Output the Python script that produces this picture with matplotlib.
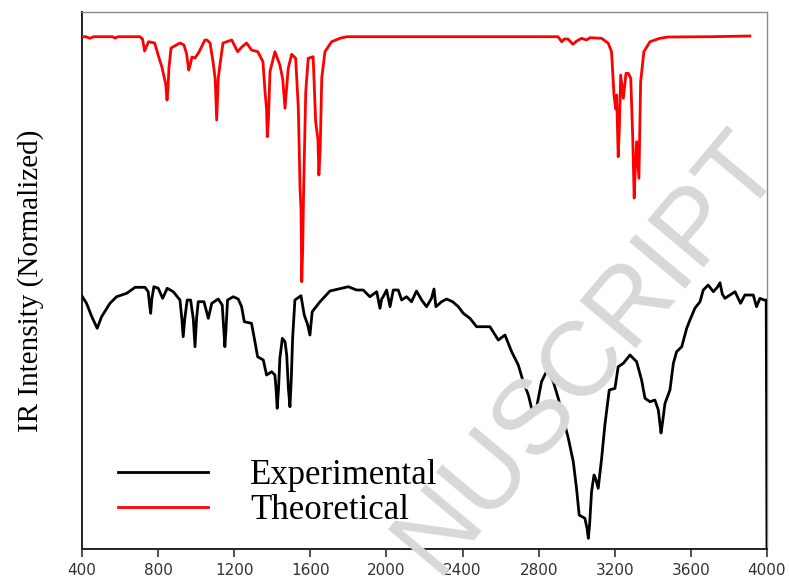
import matplotlib
matplotlib.use("Agg")
import matplotlib.pyplot as plt
import numpy as np

# Wavenumbers (cm^-1) and intensities (arbitrary units) of the two IR spectra
theo_wavenumber = [
    400, 420, 442, 460, 560, 573, 590, 705, 718, 729, 740, 750, 782, 805, 820,
    840, 847, 852, 857, 868, 915, 936, 950, 961, 970, 978, 994, 1015, 1046, 1057,
    1073, 1089, 1100, 1108, 1116, 1125, 1141, 1187, 1218, 1240, 1265, 1291, 1324,
    1351, 1362, 1370, 1374, 1380, 1388, 1414, 1440, 1455, 1467, 1475, 1484, 1502,
    1523, 1537, 1546, 1551, 1555, 1560, 1565, 1576, 1589, 1615, 1628, 1640, 1645,
    1652, 1660, 1677, 1712, 1760, 1793, 2763, 2902, 2921, 2935, 2954, 2980, 3000,
    3026, 3052, 3070, 3131, 3166, 3183, 3196, 3205, 3210, 3218, 3224, 3231, 3245,
    3259, 3271, 3284, 3294, 3302, 3308, 3315, 3327, 3336, 3353, 3385, 3437, 3481,
    3700, 3910,
]
theo_intensity = [
    512.3, 512.3, 510.7, 512.3, 512.3, 511.0, 512.3, 512.3, 510.0, 498.0, 503.0,
    507.3, 506.0, 491.0, 482.0, 465.0, 449.0, 460.0, 481.0, 501.0, 506.0, 504.0,
    495.0, 479.0, 485.0, 492.0, 491.0, 497.0, 509.0, 509.0, 506.0, 487.0, 470.0,
    429.0, 470.0, 484.0, 506.0, 509.0, 497.3, 502.0, 506.0, 499.0, 497.3, 487.3,
    457.3, 440.0, 412.3, 430.0, 477.3, 497.3, 484.0, 470.0, 440.7, 460.0, 480.7,
    494.7, 490.7, 440.7, 360.7, 340.0, 267.3, 300.0, 361.0, 457.3, 490.7, 492.3,
    427.3, 410.0, 374.0, 400.0, 470.7, 497.3, 507.3, 511.0, 512.3, 512.3, 512.3,
    507.3, 510.0, 510.0, 504.7, 508.0, 510.7, 509.0, 511.3, 510.7, 505.7, 497.3,
    454.0, 440.0, 454.0, 392.3, 420.0, 474.0, 450.7, 475.7, 475.7, 470.7, 414.0,
    351.0, 380.0, 407.3, 370.7, 467.3, 497.3, 507.3, 510.7, 512.0, 512.3, 513.0,
]

exp_wavenumber = [
    402, 424, 450, 480, 503, 547, 582, 635, 679, 731, 748, 755, 761, 767, 778,
    801, 824, 848, 880, 915, 925, 932, 940, 953, 971, 985, 994, 1002, 1011, 1041,
    1064, 1082, 1116, 1137, 1145, 1151, 1157, 1165, 1195, 1221, 1239, 1253, 1291,
    1309, 1323, 1353, 1370, 1397, 1414, 1420, 1426, 1433, 1440, 1453, 1467, 1476,
    1485, 1493, 1500, 1507, 1519, 1551, 1568, 1585, 1598, 1610, 1651, 1703, 1747,
    1800, 1843, 1878, 1913, 1949, 1966, 1975, 1983, 2001, 2019, 2036, 2062, 2080,
    2106, 2132, 2158, 2185, 2211, 2237, 2250, 2260, 2290, 2316, 2348, 2378, 2404,
    2439, 2474, 2492, 2544, 2588, 2623, 2658, 2693, 2719, 2746, 2763, 2789, 2815,
    2845, 2877, 2903, 2929, 2956, 2982, 2999, 3013, 3043, 3055, 3061, 3068, 3078,
    3091, 3100, 3113, 3131, 3148, 3171, 3201, 3218, 3245, 3280, 3315, 3341, 3359,
    3385, 3411, 3429, 3443, 3450, 3464, 3490, 3508, 3525, 3552, 3578, 3595, 3621,
    3648, 3665, 3691, 3718, 3740, 3753, 3765, 3779, 3805, 3832, 3861, 3884, 3928,
    3945, 3963, 3984, 3996, 4000,
]
exp_intensity = [
    252.3, 245.7, 233.0, 220.7, 232.3, 245.7, 252.3, 255.7, 261.7, 261.7, 257.3,
    245.0, 235.7, 250.0, 262.3, 260.7, 250.7, 260.7, 257.3, 249.0, 230.0, 212.3,
    230.0, 249.0, 249.0, 230.0, 202.3, 230.0, 247.3, 247.3, 230.7, 245.7, 250.0,
    244.0, 220.0, 202.3, 220.0, 249.0, 252.3, 250.0, 242.3, 227.3, 225.7, 207.3,
    192.3, 189.0, 174.0, 177.3, 174.0, 160.0, 140.7, 160.0, 190.7, 210.7, 207.3,
    194.0, 160.0, 142.3, 170.0, 210.7, 249.0, 253.3, 234.0, 225.0, 214.0, 237.3,
    247.3, 258.0, 260.0, 262.3, 259.0, 259.0, 252.3, 257.3, 240.7, 250.0, 252.3,
    259.0, 242.3, 259.0, 259.0, 249.0, 252.3, 247.3, 258.0, 249.0, 242.3, 250.7,
    260.0, 242.3, 247.3, 250.0, 247.3, 242.3, 235.7, 230.7, 222.3, 222.3, 222.3,
    209.0, 214.0, 197.3, 184.0, 167.3, 154.0, 140.7, 141.3, 167.3, 179.0, 167.3,
    150.7, 130.7, 110.7, 87.3, 60.7, 34.0, 30.7, 20.0, 10.7, 25.0, 57.3, 74.0,
    70.0, 60.7, 90.7, 124.0, 159.0, 160.7, 182.3, 185.7, 194.0, 187.3, 169.0,
    150.7, 147.3, 149.0, 139.0, 116.0, 125.0, 145.7, 159.0, 185.7, 197.3, 202.3,
    220.7, 229.0, 240.7, 247.3, 259.0, 264.0, 257.3, 262.0, 266.3, 255.0, 250.7,
    254.0, 257.3, 245.7, 254.0, 254.0, 242.3, 250.7, 249.0, 249.0, 0.0,
]

x_ticks = [400, 800, 1200, 1600, 2000, 2400, 2800, 3200, 3600, 4000]
series_labels = ["Experimental", "Theoretical"]

fig = plt.figure(figsize=(7.89, 5.80), dpi=100)
ax = fig.add_axes([0.1039, 0.0534, 0.8682, 0.9259])

# Faint diagonal watermark behind the spectra
fig.text(0.772, 0.362, "NUSCRIPT", rotation=50, rotation_mode="anchor",
         ha="center", va="baseline", fontsize=76, color="#d8d8d8",
         family="Liberation Sans", zorder=0)
ax.set_facecolor("none")

exp_line, = ax.plot(exp_wavenumber, exp_intensity, color="black", lw=2.0,
                    label=series_labels[0], zorder=3)
theo_line, = ax.plot(theo_wavenumber, theo_intensity, color="#ff0000", lw=2.0,
                     label=series_labels[1], zorder=3)

ax.set_xlim(400, 4000)
ax.set_ylim(0, 537)
ax.set_xticks(x_ticks)
ax.set_xticklabels([str(t) for t in x_ticks], family="DejaVu Sans",
                   fontsize=11, color="#333333")
ax.set_yticks([])
ax.tick_params(axis="x", direction="out", length=6, width=1.2,
               color="#333333", pad=4)

for side in ("top", "right"):
    ax.spines[side].set_color("#8a8a8a")
    ax.spines[side].set_linewidth(1.0)
for side in ("left", "bottom"):
    ax.spines[side].set_color("#222222")
    ax.spines[side].set_linewidth(1.4)

fig.text(31 / 789, 0.516, "IR Intensity (Normalized)", rotation=90,
         ha="center", va="center", fontsize=21, family="Liberation Serif")

ax.legend(handles=[exp_line, theo_line], loc="center left",
          bbox_to_anchor=(0.0526, 0.104), frameon=False,
          prop={"family": "Liberation Serif", "size": 25},
          handlelength=2.6, handletextpad=1.2, labelspacing=0.06,
          borderpad=0, borderaxespad=0)

fig.savefig("out.png", dpi=100)
